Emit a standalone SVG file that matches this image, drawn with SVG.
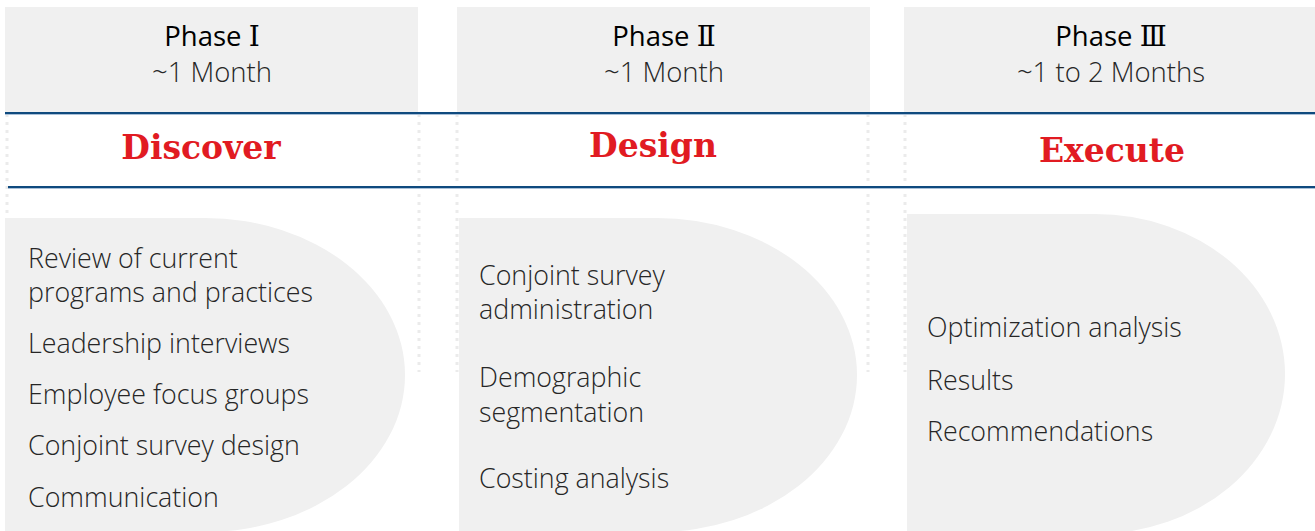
<svg xmlns="http://www.w3.org/2000/svg" width="1315" height="531" viewBox="0 0 1315 531">
  <defs>
    <style>
      .hdr { fill: #f0f0f0; }
      .blob { fill: #f0f0f0; }
      .dots { stroke: #ebebeb; stroke-width: 3; stroke-dasharray: 3 5; fill: none; }
      .rule { stroke: #0f4a7e; stroke-width: 2.2; }
      .rule-shade { stroke: #a9c0d8; stroke-width: 1; }
      .phase { font-family: "Segoe UI", "Open Sans", "Noto Sans", sans-serif; font-size: 27.5px; fill: #000; text-anchor: middle; }
      .num { font-family: "DejaVu Serif", "Liberation Serif", serif; font-size: 28px; }
      .dur { font-family: "Segoe UI Light", "Open Sans", "Noto Sans", sans-serif; font-weight: 300; font-size: 27.5px; fill: #262626; text-anchor: middle; }
      .stage { font-family: "DejaVu Serif", "Liberation Serif", serif; font-weight: bold; font-size: 33px; fill: #e11b22; text-anchor: middle; }
      .item { font-family: "Segoe UI Light", "Open Sans", "Noto Sans", sans-serif; font-weight: 300; font-size: 26.8px; fill: #262626; }
    </style>
  </defs>

  <!-- dotted column guides -->
  <g id="guides">
    <line class="dots" x1="7" y1="114" x2="7" y2="372"/>
    <line class="dots" x1="419" y1="114" x2="419" y2="372"/>
    <line class="dots" x1="457" y1="114" x2="457" y2="372"/>
    <line class="dots" x1="868" y1="114" x2="868" y2="372"/>
    <line class="dots" x1="905" y1="114" x2="905" y2="372"/>
  </g>

  <!-- Phase I column -->
  <g id="phase1">
    <rect class="hdr" x="5" y="7" width="413" height="105"/>
    <text class="phase" x="212" y="46">Phase <tspan class="num">Ⅰ</tspan></text>
    <text class="dur" x="212" y="82">~1 Month</text>
    <text class="stage" x="201" y="159">Discover</text>
    <path class="blob" d="M5,218 H205 A200,157 0 0 1 205,532 H5 Z"/>
    <text class="item" x="28" y="268">Review of current</text>
    <text class="item" x="28" y="302">programs and practices</text>
    <text class="item" x="28" y="353">Leadership interviews</text>
    <text class="item" x="28" y="404">Employee focus groups</text>
    <text class="item" x="28" y="455">Conjoint survey design</text>
    <text class="item" x="28" y="507">Communication</text>
  </g>

  <!-- Phase II column -->
  <g id="phase2">
    <rect class="hdr" x="457" y="7" width="413" height="105"/>
    <text class="phase" x="664" y="46">Phase <tspan class="num">Ⅱ</tspan></text>
    <text class="dur" x="664" y="82">~1 Month</text>
    <text class="stage" x="653" y="157">Design</text>
    <path class="blob" d="M459,218 H657 A200,157 0 0 1 657,532 H459 Z"/>
    <text class="item" x="479" y="285">Conjoint survey</text>
    <text class="item" x="479" y="319">administration</text>
    <text class="item" x="479" y="387">Demographic</text>
    <text class="item" x="479" y="422">segmentation</text>
    <text class="item" x="479" y="488">Costing analysis</text>
  </g>

  <!-- Phase III column -->
  <g id="phase3">
    <rect class="hdr" x="904" y="7" width="411" height="105"/>
    <text class="phase" x="1111" y="46">Phase <tspan class="num">Ⅲ</tspan></text>
    <text class="dur" x="1111" y="82">~1 to 2 Months</text>
    <text class="stage" x="1112" y="162">Execute</text>
    <path class="blob" d="M907,214 H1095 A190,160 0 0 1 1095,534 H907 Z"/>
    <text class="item" x="927" y="337">Optimization analysis</text>
    <text class="item" x="927" y="390">Results</text>
    <text class="item" x="927" y="441">Recommendations</text>
  </g>

  <!-- horizontal rules framing the stage names -->
  <g id="connectors">
    <line class="rule-shade" x1="5" y1="114.5" x2="1315" y2="114.5"/>
    <line class="rule" x1="5" y1="113" x2="1315" y2="113"/>
    <line class="rule-shade" x1="8" y1="188.5" x2="1315" y2="188.5"/>
    <line class="rule" x1="8" y1="187" x2="1315" y2="187"/>
  </g>
</svg>
